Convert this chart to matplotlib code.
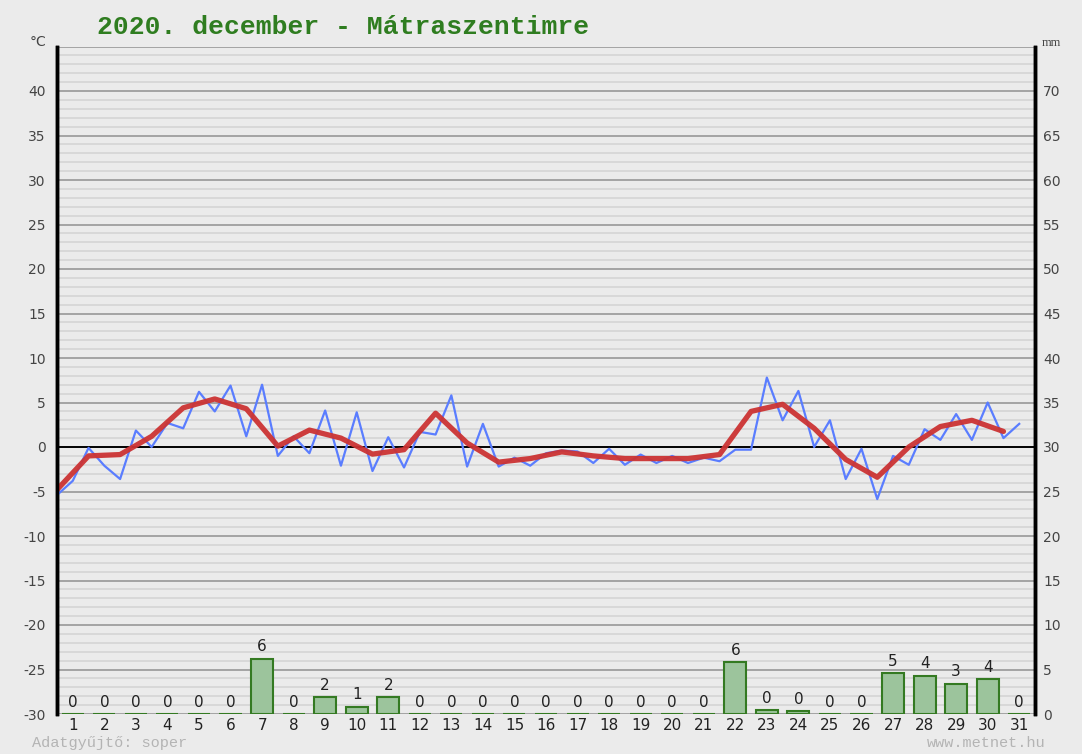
import matplotlib.pyplot as plt
import numpy as np

plt.rcParams['axes.unicode_minus'] = False

# napok
days = np.arange(1, 32)

# homerseklet, fel naponkent (0.5, 1.0, ... 31.0)
temp_x = np.arange(1, 63) * 0.5
temp = [-5.4, -3.8, -0.1, -2.1, -3.6, 1.85, 0.0, 2.7, 2.1, 6.2,
        4.0, 6.9, 1.2, 7.0, -1.0, 1.2, -0.7, 4.1, -2.1, 3.9,
        -2.7, 1.1, -2.3, 1.7, 1.4, 5.8, -2.2, 2.6, -2.2, -1.2,
        -2.1, -0.7, -0.4, -0.5, -1.8, -0.2, -2.0, -0.85, -1.8, -1.0,
        -1.8, -1.2, -1.6, -0.3, -0.3, 7.8, 3.0, 6.3, 0.0, 3.0,
        -3.6, -0.2, -5.85, -1.0, -2.0, 2.0, 0.8, 3.7, 0.8, 5.0,
        1.0, 2.6]

# napi atlag
mean_x = days - 0.5
mean_temp = [-4.8, -1.0, -0.85, 1.2, 4.4, 5.4, 4.3, 0.1, 1.9, 1.0,
             -0.8, -0.3, 3.8, 0.45, -1.7, -1.3, -0.55, -1.0, -1.3, -1.3,
             -1.3, -0.85, 4.0, 4.8, 2.1, -1.4, -3.4, 0.0, 2.3, 3.0,
             1.75]

# csapadek (mm)
precip = [0, 0, 0, 0, 0, 0, 6.2, 0, 1.9, 0.8,
          1.9, 0, 0, 0, 0, 0, 0, 0, 0, 0,
          0, 5.8, 0.4, 0.3, 0, 0, 4.6, 4.3, 3.4, 3.9,
          0]
precip_labels = ['0', '0', '0', '0', '0', '0', '6', '0', '2', '1',
                 '2', '0', '0', '0', '0', '0', '0', '0', '0', '0',
                 '0', '6', '0', '0', '0', '0', '5', '4', '3', '4',
                 '0']

bg = '#ebebeb'
fig = plt.figure(figsize=(10.82, 7.54), dpi=100, facecolor=bg)
ax = fig.add_axes([57 / 1082, 1 - 714 / 754, (1035 - 57) / 1082, (714 - 46.5) / 754])
ax.set_facecolor(bg)
ax.set_xlim(0.5, 31.5)
ax.set_ylim(-30, 45)

for v in np.arange(-30, 46):
    if v == 0:
        ax.axhline(v, color='black', lw=1.4, zorder=1)
    elif v % 5 == 0:
        ax.axhline(v, color='#9e9e9e', lw=1.3, zorder=1)
    else:
        ax.axhline(v, color='#d8d8d8', lw=1.4, zorder=0.5)

ax.plot(temp_x, temp, color='#5a7dff', lw=1.6, zorder=3)
ax.plot(mean_x, mean_temp, color='#cc3333', lw=3.8, alpha=0.95,
        solid_joinstyle='round', solid_capstyle='round', zorder=4)

ax.set_yticks(np.arange(-30, 41, 5))
ax.set_xticks(days)
ax.set_xticklabels([str(d) for d in days])
ax.tick_params(axis='y', length=0, pad=8, labelsize=10, labelcolor='#444444')
ax.tick_params(axis='x', length=0, pad=3, labelsize=11, labelcolor='#222222')
for s in ['top', 'bottom']:
    ax.spines[s].set_visible(False)
ax.spines['left'].set_linewidth(2.5)
ax.spines['right'].set_linewidth(2.5)

ax2 = ax.twinx()
ax2.set_ylim(0, 75)
ax2.set_yticks(np.arange(0, 71, 5))
ax2.tick_params(axis='y', length=0, pad=6, labelsize=10, labelcolor='#444444')
for s in ['top', 'bottom']:
    ax2.spines[s].set_visible(False)
ax2.spines['left'].set_linewidth(2.5)
ax2.spines['right'].set_linewidth(2.5)

ax2.bar(days, precip, width=0.7, color='#9cc49c', edgecolor='#347a22', linewidth=1.5, zorder=2)
for d, p, lab in zip(days, precip, precip_labels):
    ax2.text(d, p + 0.5, lab, ha='center', va='bottom', fontsize=11, color='#222222')

fig.text(97 / 1082, 1 - 27 / 754, '2020. december - Mátraszentimre', family='Liberation Mono',
         fontsize=19, fontweight='bold', color='#2f7d20', va='center', ha='left')
fig.text(30 / 1082, 1 - 42 / 754, '°C', fontsize=10, color='#444444', va='center', ha='left')
fig.text(1042 / 1082, 1 - 43 / 754, 'mm', family='Liberation Serif', fontsize=9,
         color='#444444', va='center', ha='left')
fig.text(32 / 1082, 1 - 743 / 754, 'Adatgyűjtő: soper', family='Liberation Mono',
         fontsize=11, color='#b4b4b4', va='center', ha='left')
fig.text(1046 / 1082, 1 - 743 / 754, 'www.metnet.hu', family='Liberation Mono',
         fontsize=11, color='#b4b4b4', va='center', ha='right')

fig.savefig('out.png', dpi=100, facecolor=bg)
